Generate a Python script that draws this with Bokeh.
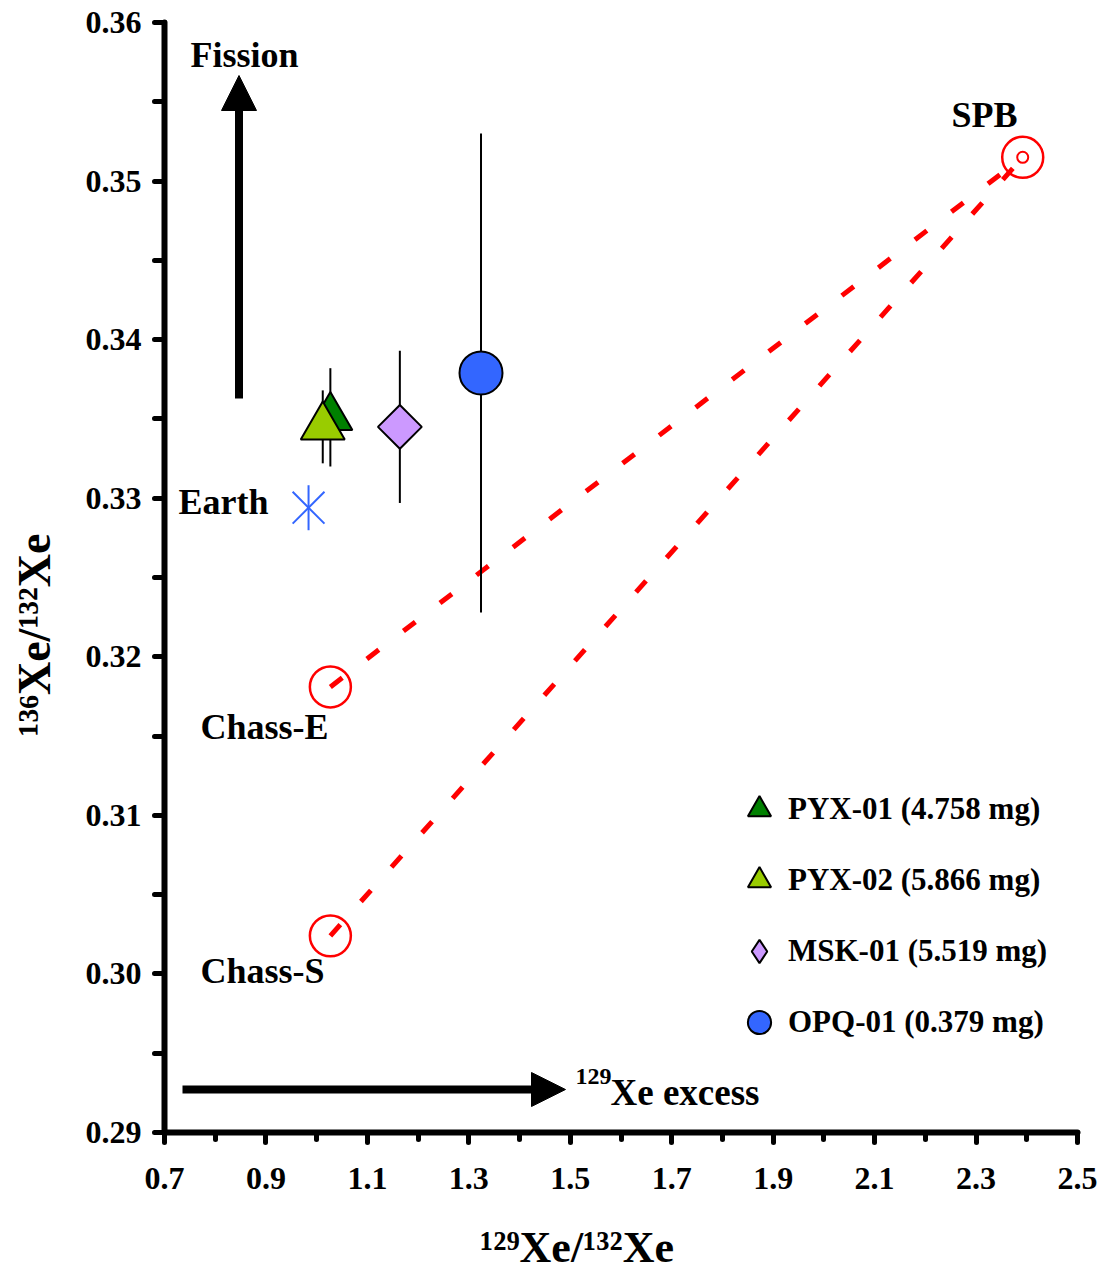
import numpy as np
from bokeh.plotting import figure
from bokeh.models import (Range1d, FixedTicker, NumeralTickFormatter, Label, Arrow,
                          NormalHead, Legend, LegendItem)
from bokeh.embed import file_html
from bokeh.resources import INLINE

# ---------------- data ----------------
samples = ["PYX-01 (4.758 mg)", "PYX-02 (5.866 mg)", "MSK-01 (5.519 mg)", "OPQ-01 (0.379 mg)"]
xe129_132 = [1.027, 1.012, 1.164, 1.324]
xe136_132 = [0.3351, 0.3345, 0.3345, 0.3379]
xe136_err = [0.0031, 0.0023, 0.0048, 0.0151]

earth_x = [0.984]
earth_y = [0.3294]

chass_names = ["Chass-E", "Chass-S"]
chass_x = [1.027, 1.027]
chass_y = [0.3181, 0.3024]
spb_x = [2.392]
spb_y = [0.3515]

x_ticks = [0.7, 0.9, 1.1, 1.3, 1.5, 1.7, 1.9, 2.1, 2.3, 2.5]
x_minor = [0.8, 1.0, 1.2, 1.4, 1.6, 1.8, 2.0, 2.2, 2.4]
y_ticks = [0.29, 0.30, 0.31, 0.32, 0.33, 0.34, 0.35, 0.36]
y_minor = [0.295, 0.305, 0.315, 0.325, 0.335, 0.345, 0.355]

x_title = "\u00b9\u00b2\u2079Xe/\u00b9\u00b3\u00b2Xe"
y_title = "\u00b9\u00b3\u2076Xe/\u00b9\u00b3\u00b2Xe"

# ---------------- styles ----------------
FONT = "Liberation Serif"
marker_kind = ["triangle", "triangle", "square", "circle"]
marker_size = [44, 44, 31, 43]
marker_angle = [0, 0, np.pi / 4, 0]
marker_fill = ["#008000", "#99CC00", "#CC99FF", "#3366FF"]
BLUE = "#3366FF"
RED = "#FF0000"
NB = "\u00a0"

X0, X1, Y0, Y1 = 0.7, 2.5, 0.29, 0.36
W, H = 1102, 1275
FL, FR, FT, FB = 164, 1077, 22, 1132


def dx(px):
    return X0 + (px - FL) * (X1 - X0) / (FR - FL)


def dy(py):
    return Y1 - (py - FT) * (Y1 - Y0) / (FB - FT)


p = figure(width=W, height=H, x_range=Range1d(X0, X1), y_range=Range1d(Y0, Y1),
           output_backend="svg", toolbar_location=None,
           min_border_left=FL, min_border_right=W - FR,
           min_border_top=FT, min_border_bottom=H - FB)
p.grid.visible = False
p.outline_line_color = None
p.background_fill_color = "white"
p.border_fill_color = "white"

# axes
p.xaxis.ticker = FixedTicker(ticks=x_ticks, minor_ticks=x_minor)
p.yaxis.ticker = FixedTicker(ticks=y_ticks, minor_ticks=y_minor)
p.xaxis.formatter = NumeralTickFormatter(format="0.0")
p.yaxis.formatter = NumeralTickFormatter(format="0.00")
for ax in (p.xaxis, p.yaxis):
    ax.axis_line_width = 6
    ax.axis_line_color = "black"
    ax.axis_line_cap = "round"
    ax.major_tick_line_width = 5
    ax.minor_tick_line_width = 5
    ax.major_tick_line_cap = "round"
    ax.minor_tick_line_cap = "round"
    ax.major_tick_line_color = "black"
    ax.minor_tick_line_color = "black"
    ax.major_tick_in = 0
    ax.minor_tick_in = 0
    ax.major_tick_out = 10
    ax.major_label_text_font = FONT
    ax.major_label_text_font_style = "bold"
    ax.major_label_text_font_size = "32px"
    ax.major_label_text_color = "black"
    ax.axis_label_text_font = FONT
    ax.axis_label_text_font_style = "bold"
    ax.axis_label_text_color = "black"
p.xaxis.minor_tick_out = 7
p.yaxis.minor_tick_out = 10
p.xaxis.major_label_standoff = 25
p.yaxis.major_label_standoff = 13
p.xaxis.axis_label = x_title + NB * 8
p.xaxis.axis_label_text_font_size = "44px"
p.xaxis.axis_label_standoff = 31
p.yaxis.axis_label = y_title + NB * 10
p.yaxis.axis_label_text_font_size = "46px"
p.yaxis.axis_label_standoff = 23

# mixing lines
for cx, cy in zip(chass_x, chass_y):
    p.line([cx, spb_x[0]], [cy, spb_y[0]], line_color=RED, line_width=5,
           line_dash="15 31", line_cap="butt")

# end-members
p.scatter(chass_x, chass_y, marker="circle", size=41, fill_color=None,
          line_color=RED, line_width=2.5)
p.scatter(spb_x, spb_y, marker="circle", size=41, fill_color=None,
          line_color=RED, line_width=2.5)
p.scatter(spb_x, spb_y, marker="circle", size=11, fill_color=None,
          line_color=RED, line_width=2)

# Earth
p.scatter(earth_x, earth_y, marker="x", size=45, line_color=BLUE, line_width=2)
p.scatter(earth_x, earth_y, marker="dash", angle=np.pi / 2, size=45,
          line_color=BLUE, line_width=2)

# error bars
lo = [y - e for y, e in zip(xe136_132, xe136_err)]
hi = [y + e for y, e in zip(xe136_132, xe136_err)]
p.segment(x0=xe129_132, y0=lo, x1=xe129_132, y1=hi, line_color="black", line_width=2)

# sample markers
rends = []
for i in range(len(samples)):
    r = p.scatter([xe129_132[i]], [xe136_132[i]], marker=marker_kind[i],
                  size=marker_size[i], angle=marker_angle[i],
                  fill_color=marker_fill[i], line_color="black", line_width=2)
    rends.append(r)

# legend swatch for the diamond (legend glyphs ignore the marker angle)
msk_legend = p.scatter([xe129_132[2]], [xe136_132[2]], marker="diamond", size=10,
                       fill_color=marker_fill[2], line_color="black", line_width=2,
                       visible=False)
legend_rends = [rends[0], rends[1], msk_legend, rends[3]]

legend = Legend(items=[LegendItem(label=s, renderers=[r]) for s, r in zip(samples, legend_rends)],
                location=(566, 81), orientation="vertical",
                glyph_width=58, glyph_height=58, label_standoff=0, spacing=13,
                padding=0, margin=0, border_line_color=None, background_fill_alpha=0,
                label_text_font=FONT, label_text_font_style="bold",
                label_text_font_size="31px", label_text_color="black")
p.add_layout(legend)

# arrows
p.add_layout(Arrow(end=NormalHead(size=35, fill_color="black", line_color="black", line_width=1),
                   x_start=dx(238.5), y_start=dy(398), x_end=dx(238.5), y_end=dy(75),
                   line_width=8, line_color="black"))
p.add_layout(Arrow(end=NormalHead(size=34, fill_color="black", line_color="black", line_width=1),
                   x_start=dx(182), y_start=dy(1089), x_end=dx(565), y_end=dy(1089),
                   line_width=8, line_color="black"))


def lab(text, px, py, size):
    # py is the wanted baseline; the SVG text baseline lands ~0.36 em lower
    p.add_layout(Label(x=dx(px), y=dy(py - 0.36 * size), text=text, text_font=FONT,
                       text_font_style="bold", text_font_size=f"{size}px",
                       text_color="black", text_align="left",
                       text_baseline="alphabetic"))


lab("Fission", 190, 67, 36)
lab("Earth", 178, 514, 36)
lab(chass_names[0], 200, 739, 36)
lab(chass_names[1], 200, 983, 36)
lab("SPB", 951, 127, 36)
lab("129", 575, 1085, 24)
lab("Xe excess", 610, 1105, 37)

open("out.html", "w").write(file_html(p, INLINE))
